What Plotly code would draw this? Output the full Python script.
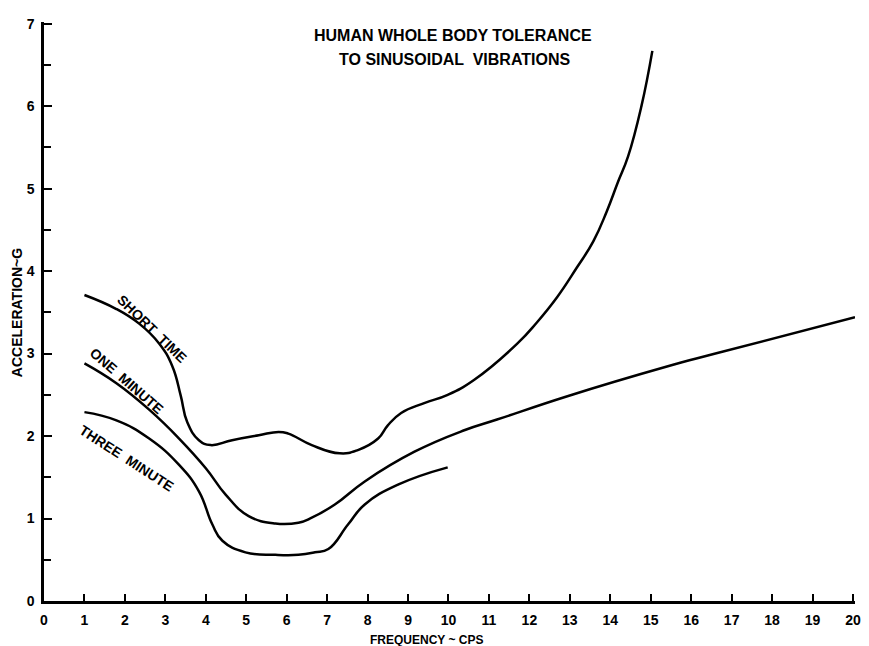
import plotly.graph_objects as go

# Frequency (cps) and acceleration (G)
short_x = [1.0, 1.79, 2.36, 2.85, 3.17, 3.38, 3.54, 3.83, 4.12, 4.65, 5.31, 5.8, 6.04, 6.62, 7.31, 7.76, 8.26, 8.5, 8.83, 9.4, 9.98, 10.63, 11.7, 12.19, 12.68, 13.17, 13.58, 13.91, 14.19, 14.44, 14.77, 15.04]
short_y = [3.71, 3.54, 3.36, 3.12, 2.85, 2.49, 2.17, 1.95, 1.89, 1.95, 2.01, 2.05, 2.03, 1.89, 1.79, 1.83, 1.97, 2.13, 2.28, 2.40, 2.50, 2.68, 3.12, 3.38, 3.68, 4.04, 4.36, 4.72, 5.08, 5.39, 6.0, 6.67]

one_x = [1.0, 1.79, 2.6, 3.34, 4.0, 4.49, 5.06, 5.72, 6.29, 6.62, 7.19, 7.93, 9.16, 10.39, 11.2, 12.92, 15.38, 16.6, 20.05]
one_y = [2.88, 2.64, 2.32, 1.97, 1.61, 1.29, 1.03, 0.94, 0.95, 1.01, 1.17, 1.45, 1.81, 2.07, 2.2, 2.48, 2.84, 3.0, 3.44]

three_x = [1.0, 1.79, 2.6, 3.34, 3.83, 4.16, 4.41, 4.98, 5.72, 6.29, 6.7, 7.03, 7.52, 7.93, 8.75, 9.98]
three_y = [2.29, 2.19, 1.97, 1.65, 1.33, 0.93, 0.73, 0.59, 0.56, 0.56, 0.59, 0.63, 0.93, 1.17, 1.41, 1.62]

x_ticks = list(range(0, 21))
y_ticks = list(range(0, 8))

FONT = "Liberation Sans"
fig = go.Figure()
for xs, ys in [(short_x, short_y), (one_x, one_y), (three_x, three_y)]:
    fig.add_trace(go.Scatter(x=xs, y=ys, mode="lines",
                             line=dict(color="black", width=2.5, shape="spline", smoothing=1.3),
                             showlegend=False, hoverinfo="skip"))

tick_font = dict(family=FONT, size=14, color="black", weight="bold")
fig.update_layout(
    width=861, height=638,
    margin=dict(l=36, r=11, t=8, b=45),
    plot_bgcolor="white", paper_bgcolor="white",
    font=dict(family=FONT, color="black", size=13),
    xaxis=dict(range=[0, 20.05], tickvals=x_ticks, ticktext=[str(v) for v in x_ticks],
               showgrid=False, zeroline=False, showline=True, linecolor="black", linewidth=2.5,
               ticks="inside", ticklen=7, tickwidth=2, tickcolor="black",
               ticklabelstandoff=4, tickfont=tick_font),
    yaxis=dict(range=[0, 7.02], tickvals=y_ticks, ticktext=[str(v) for v in y_ticks],
               showgrid=False, zeroline=False, showline=True, linecolor="black", linewidth=2.5,
               ticks="inside", ticklen=8, tickwidth=2, tickcolor="black",
               minor=dict(dtick=0.5, ticks="inside", ticklen=7, tickwidth=2, tickcolor="black"),
               ticklabelstandoff=4, tickfont=tick_font),
)

title_font = dict(family=FONT, size=16, color="black")
fig.add_annotation(x=10.12, y=6.86, text="<b>HUMAN WHOLE BODY TOLERANCE</b>", showarrow=False, font=title_font)
fig.add_annotation(x=10.15, y=6.57, text="<b>TO SINUSOIDAL  VIBRATIONS</b>", showarrow=False, font=title_font)

lab_font = dict(family=FONT, size=14, color="black")
fig.add_annotation(x=2.68, y=3.30, text="<b>SHORT  TIME</b>", textangle=44, showarrow=False, font=lab_font)
fig.add_annotation(x=2.05, y=2.67, text="<b>ONE  MINUTE</b>", textangle=41, showarrow=False, font=lab_font)
fig.add_annotation(x=2.03, y=1.73, text="<b>THREE  MINUTE</b>", textangle=33, showarrow=False, font=lab_font)

fig.add_annotation(x=9.46, y=0, yref="paper", yshift=-39, yanchor="middle", xanchor="center",
                   text="<b>FREQUENCY ~ CPS</b>",
                   showarrow=False, font=dict(family=FONT, size=12, color="black"))
fig.add_annotation(x=0, xref="paper", xshift=-27, xanchor="center", yanchor="middle", y=3.49,
                   text="<b>ACCELERATION~G</b>",
                   textangle=-90, showarrow=False, font=dict(family=FONT, size=14, color="black"))

fig.write_html("out.html")
